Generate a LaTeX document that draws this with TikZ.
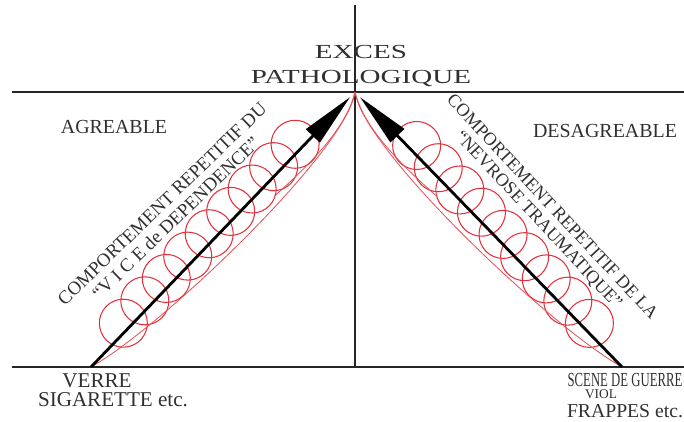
\documentclass[tikz,border=0pt]{standalone}
\usepackage{fontspec}
\setmainfont{Liberation Serif}
\newfontfamily\largeserif[FakeStretch=1.46]{Liberation Serif}
\newfontfamily\condserif[FakeStretch=0.64]{Liberation Serif}
\usepackage{xcolor}
\usepackage{tikz}
\usetikzlibrary{arrows.meta,positioning}
\definecolor{texte}{HTML}{303030}
\definecolor{trait}{HTML}{262626}
\definecolor{rouge}{HTML}{E3303A}

% loops wound along one arrow (local frame: x along the arrow, y outwards)
\newcommand{\spirale}[1]{%
  \foreach \k in {0,...,8}
    \draw[boucle] ({54+31*\k},7) circle[radius=24];
  \draw[enveloppe] (0,0) .. controls (80,-24) and (#1-45,-34) .. (#1,0);
  \draw[enveloppe] (#1,0) .. controls (#1-30,-18) and (#1-80,-18) .. (#1-130,-14);
}

\begin{document}
\begin{tikzpicture}[x=0.03cm, y=0.03cm,
    axe/.style={line width=2pt, trait},
    fleche/.style={-{Triangle[length=46pt,width=16pt]}, line width=2.4pt, black, shorten >=6pt},
    boucle/.style={rouge, line width=0.9pt},
    enveloppe/.style={rouge!85!white, line width=0.7pt},
    lab/.style={inner sep=0pt, text=texte, align=center, font=\fontsize{17}{17}\selectfont}
]
\useasboundingbox (0,0) rectangle (684,421);

\coordinate (hautG) at (12,329);
\coordinate (hautD) at (684,329);
\coordinate (basG) at (12,54);
\coordinate (basD) at (684,54);
\coordinate (axeH) at (355,416);
\coordinate (sommet) at (355,329);
\coordinate (axeB) at (355,54);
\coordinate (piedG) at (91,54);
\coordinate (piedD) at (622,54);

\draw[axe] (hautG) -- (hautD);
\draw[axe] (basG) -- (basD);
\draw[axe, line width=1.6pt] (axeH) -- (axeB);

% red loops
\begin{scope}[shift={(piedG)}, rotate=46.17]
  \spirale{381}
\end{scope}
\begin{scope}[shift={(piedD)}, rotate=134.16, yscale=-1]
  \spirale{383}
\end{scope}

\draw[fleche] (piedG) -- (sommet);
\draw[fleche] (piedD) -- (sommet);

\node[lab, font=\largeserif\fontsize{17}{21.3}\selectfont] (exces) at (361,355) {EXCES\\PATHOLOGIQUE};
\node[lab] (agreable) at (114,294) {AGREABLE};
\node[lab] (desagreable) at (605,290) {DESAGREABLE};

\node[lab, rotate=44, font=\fontsize{16}{17}\selectfont] (vice) at (169,210)
  {COMPORTEMENT REPETITIF DU\\``V I C E de DEPENDENCE''};
\node[lab, rotate=-47, font=\fontsize{15.5}{16}\selectfont] (nevrose) at (545,207)
  {COMPORTEMENT REPETITIF DE LA\\``NEVROSE TRAUMATIQUE''};

\node[lab, font=\fontsize{18}{18}\selectfont] (verre) at (97,40) {VERRE};
\node[lab, font=\fontsize{18}{18}\selectfont] (sigarette) at (113,21) {SIGARETTE etc.};
\node[lab, font=\condserif\fontsize{17}{17}\selectfont] (scene) at (625,41) {SCENE DE GUERRE};
\node[lab, font=\fontsize{11.4}{12}\selectfont] (viol) at (601,27) {VIOL};
\node[lab, font=\fontsize{16.8}{17}\selectfont] (frappes) at (625,10) {FRAPPES etc.};
\end{tikzpicture}
\end{document}
